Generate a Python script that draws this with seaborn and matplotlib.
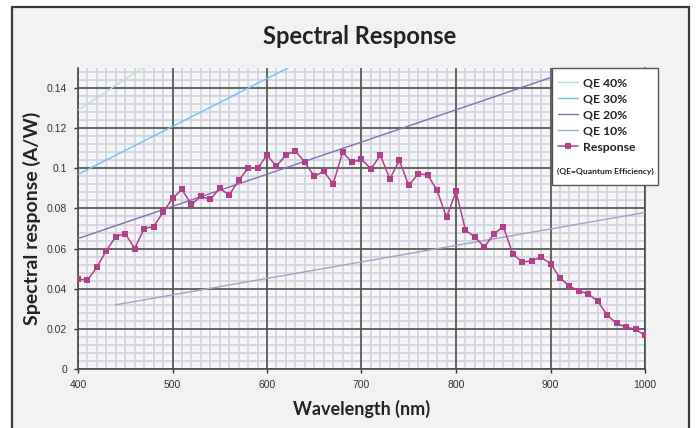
import numpy as np
import pandas as pd
import matplotlib
matplotlib.use("Agg")
import matplotlib.pyplot as plt
from matplotlib.patches import Rectangle
from matplotlib.ticker import MultipleLocator
import seaborn as sns

# response curve, 400..1000 nm every 10 nm
wavelength = list(range(400, 1001, 10))
response = [0.0448, 0.0443, 0.0507, 0.0590, 0.0660, 0.0675, 0.0600, 0.0700, 0.0710, 0.0780,
            0.0850, 0.0895, 0.0820, 0.0860, 0.0845, 0.0900, 0.0867, 0.0940, 0.1000, 0.1000,
            0.1065, 0.1010, 0.1067, 0.1087, 0.1030, 0.0960, 0.0985, 0.0923, 0.1080, 0.1030,
            0.1045, 0.0997, 0.1065, 0.0947, 0.1040, 0.0915, 0.0973, 0.0967, 0.0890, 0.0755,
            0.0885, 0.0692, 0.0658, 0.0608, 0.0672, 0.0710, 0.0575, 0.0532, 0.0540, 0.0557,
            0.0525, 0.0455, 0.0412, 0.0390, 0.0373, 0.0338, 0.0268, 0.0227, 0.0208, 0.0198,
            0.0167]

# QE reference lines: end points
qe_names = ["QE 40%", "QE 30%", "QE 20%", "QE 10%"]
qe_x = [[400, 468], [400, 622], [400, 930], [440, 1000]]
qe_y = [[0.129, 0.150], [0.097, 0.150], [0.065, 0.150], [0.032, 0.078]]
qe_colors = ["#b9e0c9", "#6fc2ec", "#7d72b6", "#9fa5c1"]

resp_color = "#b0408a"
grid_dark = "#4a4f4a"
font = ["Lato", "DejaVu Sans"]

sns.set_theme(style="white")
plt.rcParams["font.family"] = font

fig = plt.figure(figsize=(6.96, 4.28), dpi=100)
fig.patch.set_facecolor("white")
# grey panel with dark frame behind everything
fig.patches.append(Rectangle((12 / 696, -0.05), (689 - 12) / 696, 1.05 - 7 / 428,
                             transform=fig.transFigure, facecolor="#f2f2f2",
                             edgecolor="#3a3a3a", linewidth=1.6, zorder=-10))

ax = fig.add_axes([78 / 696, (428 - 369) / 428, (645 - 78) / 696, (369 - 68) / 428])
ax.set_facecolor("#f6f6f8")

for name, xs, ys, c in zip(qe_names, qe_x, qe_y, qe_colors):
    d = pd.DataFrame({"x": xs, "y": ys})
    sns.lineplot(data=d, x="x", y="y", ax=ax, color=c, linewidth=1.0, label=name, zorder=3)

d = pd.DataFrame({"wavelength": wavelength, "response": response})
sns.lineplot(data=d, x="wavelength", y="response", ax=ax, color=resp_color, linewidth=1.1,
             marker="s", markersize=4.8, markeredgewidth=0, label="Response", zorder=4)

ax.set_xlim(400, 1000)
ax.set_ylim(0, 0.15)
ax.xaxis.set_major_locator(MultipleLocator(100))
ax.xaxis.set_minor_locator(MultipleLocator(10))
ax.yaxis.set_major_locator(MultipleLocator(0.02))
ax.yaxis.set_minor_locator(MultipleLocator(0.004))
ax.set_yticks(np.arange(0, 0.141, 0.02))
ax.set_yticklabels(["0", "0.02", "0.04", "0.06", "0.08", "0.1", "0.12", "0.14"])
# light minor grid, then solid dark major lines on top of it
ax.grid(which="minor", color="#d0d1dc", linewidth=1.2)
ax.grid(which="major", visible=False)
ax.set_axisbelow(True)
for v in ax.get_xticks():
    ax.axvline(v, color=grid_dark, linewidth=1.2, zorder=1)
for v in ax.get_yticks():
    ax.axhline(v, color=grid_dark, linewidth=1.2, zorder=1)

ax.spines["top"].set_visible(False)
for s in ["left", "bottom", "right"]:
    ax.spines[s].set_color(grid_dark)
    ax.spines[s].set_linewidth(1.2)
ax.tick_params(which="major", length=3, width=1, color="#333333", labelsize=7.5,
               labelcolor="#333333", pad=5, left=True, bottom=True)
ax.tick_params(which="minor", length=0)
for lab in ax.get_xticklabels() + ax.get_yticklabels():
    lab.set_family(["Liberation Sans", "DejaVu Sans"])

ax.set_xlabel("Wavelength (nm)", fontsize=13, fontweight="bold", color="#222222", labelpad=7)
ax.set_ylabel("Spectral response (A/W)", fontsize=14, fontweight="bold", color="#222222", labelpad=4)
fig.text(360 / 696, 1 - 36 / 428, "Spectral Response", ha="center", va="center",
         fontsize=17, fontweight="bold", color="#222222")

# legend box
x0 = (552 - 78) / 567
y0 = (369 - 185) / 301
ax.add_patch(Rectangle((x0, y0), (658 - 552) / 567, 1 - y0, transform=ax.transAxes,
                       facecolor="white", edgecolor="#555555", linewidth=1.0,
                       clip_on=False, zorder=5))
leg = ax.legend(loc="upper left", bbox_to_anchor=(x0 - 0.005, 1.0), frameon=False,
                prop={"weight": "bold", "size": 8.8, "family": font},
                handlelength=1.6, handletextpad=0.4, labelspacing=0.42, borderaxespad=0.35)
leg.set_zorder(6)
for t in leg.get_texts():
    t.set_color("#222222")
ax.text(x0 + 0.009, (369 - 171) / 301, "(QE=Quantum Efficiency)", transform=ax.transAxes,
        fontsize=6.1, fontweight="bold", color="#222222", va="center", ha="left", zorder=7)

fig.savefig("out.png", dpi=100)
